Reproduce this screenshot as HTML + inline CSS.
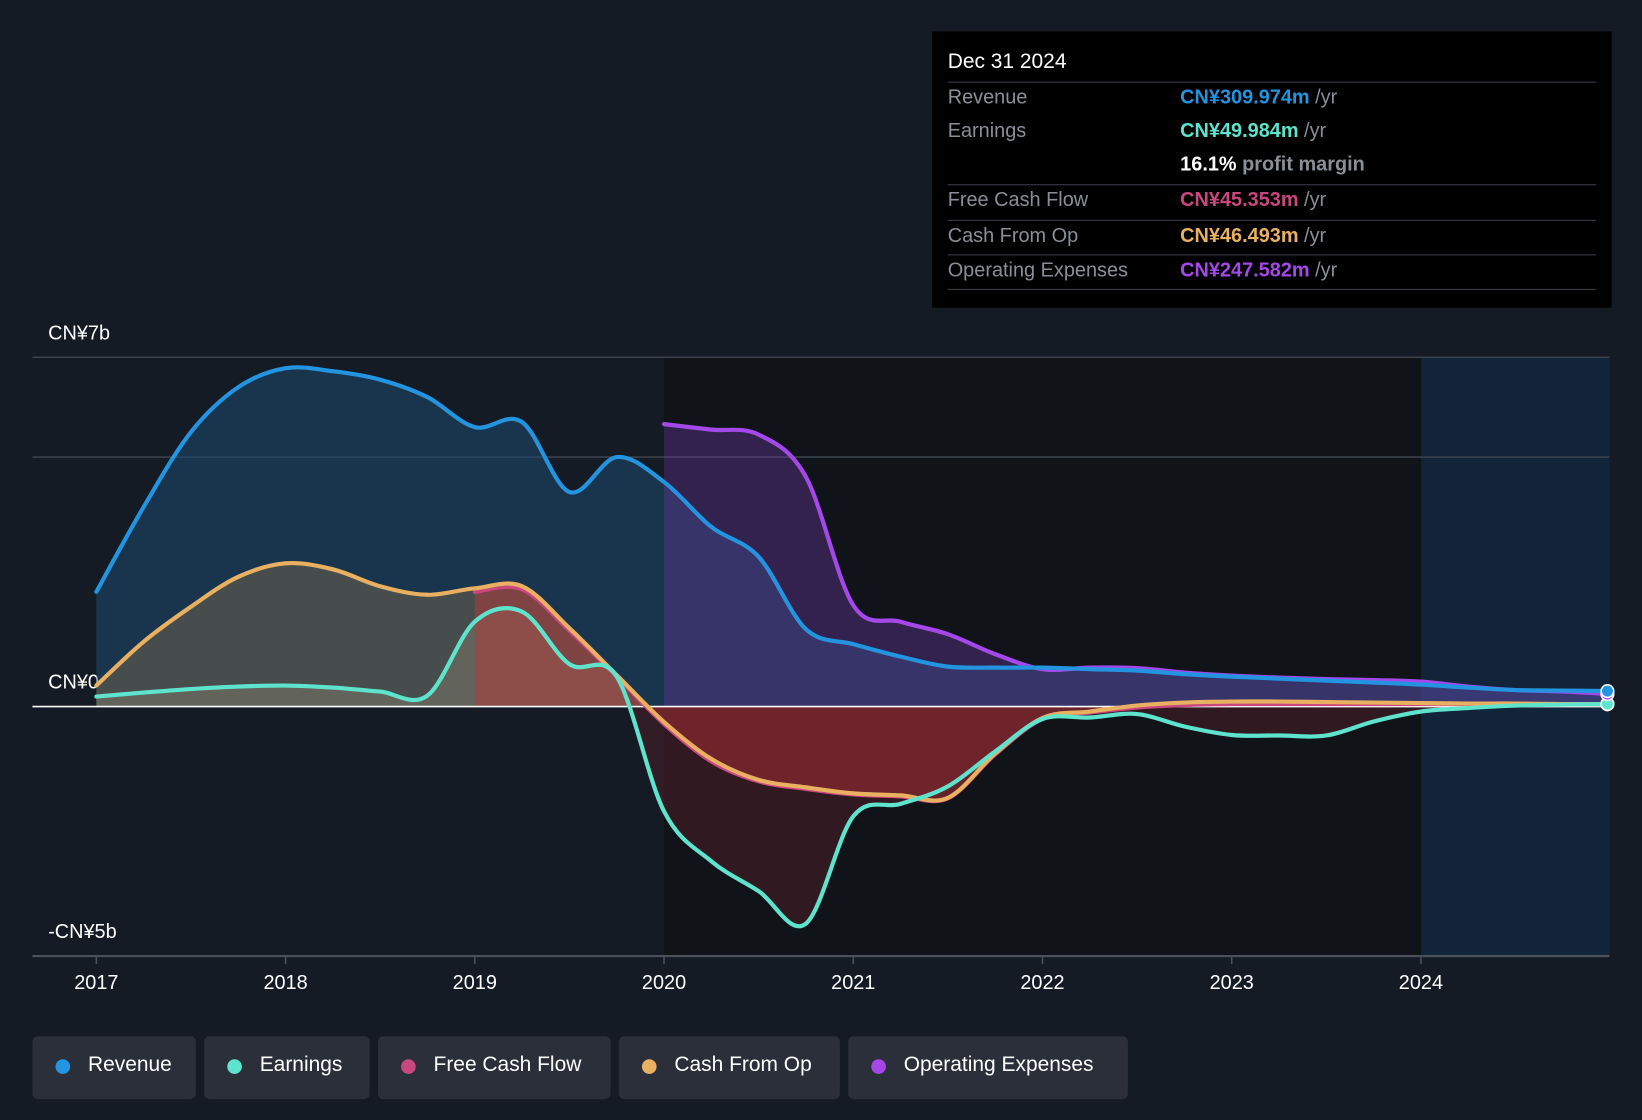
<!DOCTYPE html>
<html><head><meta charset="utf-8"><style>
html,body{margin:0;padding:0;background:#151b24;overflow:hidden;width:1642px;height:1120px}
#wrap{position:absolute;left:0;top:0;width:1568px;height:1070px;transform:scale(1.04719,1.04673);transform-origin:0 0;font-family:"Liberation Sans","Noto Sans CJK SC",sans-serif;background:#151b24}
#tip{position:absolute;left:890px;top:30px;width:649px;height:264px;background:#000}
#tip .d{position:absolute;left:15px;top:18px;color:#fff;font-size:20px}
.row{position:absolute;left:15px;width:619px;border-top:1.5px solid #3a3f46;height:32px;font-size:19px}
.row .l{position:absolute;left:0;top:4px;color:#8a8f96}
.row .v{position:absolute;left:222px;top:4px;font-weight:bold}
.row .u{color:#8a8f96;font-weight:normal}
.leg{position:absolute;top:990px;height:60px;background:#2a2f39;border-radius:5px;color:#fff;font-size:20px}
.leg span.dot{position:absolute;left:22px;top:22px;width:14px;height:14px;border-radius:50%}
.leg span.t{position:absolute;left:53px;top:16px}
</style></head><body>
<div id="wrap">
<svg id="svg" width="1568" height="1070" style="position:absolute;left:0;top:0">
<defs>
<clipPath id="above"><rect x="0" y="0" width="1568" height="675"/></clipPath>
<clipPath id="below"><rect x="0" y="675" width="1568" height="400"/></clipPath>
</defs>
</svg>
<div id="tip">
<div class="d">Dec 31 2024</div>
<div class="row" style="top:48px"><span class="l">Revenue</span><span class="v" style="color:#2394df">CN¥309.974m <span class="u">/yr</span></span></div>
<div class="row" style="top:81px;border-top:none;height:auto"><span class="l">Earnings</span><span class="v" style="color:#5ee3cc">CN¥49.984m <span class="u">/yr</span></span></div>
<div class="row" style="top:113px;border-top:none"><span class="v" style="color:#fff">16.1% <span class="u" style="font-weight:bold">profit margin</span></span></div>
<div class="row" style="top:146px"><span class="l">Free Cash Flow</span><span class="v" style="color:#c9477f">CN¥45.353m <span class="u">/yr</span></span></div>
<div class="row" style="top:180px"><span class="l">Cash From Op</span><span class="v" style="color:#e8b060">CN¥46.493m <span class="u">/yr</span></span></div>
<div class="row" style="top:213px"><span class="l">Operating Expenses</span><span class="v" style="color:#a448ea">CN¥247.582m <span class="u">/yr</span></span></div>
<div class="row" style="top:246px;height:0"></div>
</div>
<div class="leg" style="left:31px;width:156px"><span class="dot" style="background:#2394df"></span><span class="t">Revenue</span></div>
<div class="leg" style="left:195px;width:158px"><span class="dot" style="background:#5ee3cc"></span><span class="t">Earnings</span></div>
<div class="leg" style="left:361px;width:222px"><span class="dot" style="background:#c9477f"></span><span class="t">Free Cash Flow</span></div>
<div class="leg" style="left:591px;width:211px"><span class="dot" style="background:#e8b060"></span><span class="t">Cash From Op</span></div>
<div class="leg" style="left:810px;width:267px"><span class="dot" style="background:#a448ea"></span><span class="t">Operating Expenses</span></div>
</div>
<script>
const years=[2017,2018,2019,2020,2021,2022,2023,2024];
const yTicks=[7,0,-5];
const yTickLabels=["CN¥7b","CN¥0","-CN¥5b"];
const t0=2017;
const revenue=[2.3,4.0,5.5,6.4,6.78,6.72,6.55,6.2,5.6,5.7,4.3,5.0,4.5,3.6,3.0,1.55,1.25,1.0,0.8,0.78,0.78,0.75,0.72,0.65,0.6,0.56,0.52,0.48,0.44,0.38,0.33,0.32,0.31];
const earnings=[0.2,0.28,0.35,0.4,0.42,0.38,0.3,0.22,1.7,1.9,0.85,0.6,-2.1,-3.1,-3.7,-4.35,-2.2,-1.95,-1.6,-0.9,-0.25,-0.22,-0.15,-0.4,-0.57,-0.58,-0.58,-0.3,-0.1,-0.03,0.02,0.04,0.05];
const cashFromOp=[0.42,1.3,2.0,2.6,2.87,2.75,2.41,2.24,2.37,2.41,1.57,0.63,-0.31,-1.05,-1.47,-1.62,-1.74,-1.78,-1.83,-0.94,-0.23,-0.1,0.02,0.08,0.1,0.1,0.09,0.08,0.07,0.06,0.06,0.05,0.05];
const fcfStart=8;
const freeCashFlow=[2.3,2.35,1.52,0.6,-0.35,-1.1,-1.5,-1.65,-1.76,-1.8,-1.84,-0.96,-0.25,-0.12,-0.02,0.03,0.05,0.05,0.05,0.05,0.05,0.05,0.05,0.05,0.045];
const opexStart=12;
const opex=[5.66,5.55,5.45,4.6,2.03,1.7,1.45,1.05,0.75,0.78,0.77,0.68,0.62,0.58,0.55,0.53,0.5,0.4,0.33,0.3,0.25];

const X0=92,PX=180.7,Y0=675,PY=47.67;
const xs=t=>X0+(t-t0)*PX;
const ys=v=>Y0-v*PY;
const svg=document.getElementById('svg');
const NS='http://www.w3.org/2000/svg';
function mk(tag,attrs){const e=document.createElementNS(NS,tag);for(const k in attrs)e.setAttribute(k,attrs[k]);svg.appendChild(e);return e;}
function pts(arr,start){return arr.map((v,i)=>[xs(t0+(start+i)*0.25),ys(v)]);}
function curve(p){let d='M'+p[0][0]+','+p[0][1];for(let i=0;i<p.length-1;i++){const a=p[i-1]||p[i],b=p[i],c=p[i+1],e=p[i+2]||c;
d+=' C'+(b[0]+(c[0]-a[0])/6)+','+(b[1]+(c[1]-a[1])/6)+' '+(c[0]-(e[0]-b[0])/6)+','+(c[1]-(e[1]-b[1])/6)+' '+c[0]+','+c[1];}return d;}
let r=mk('rect',{x:634,y:341,width:723,height:572,fill:'#101318'});
r=mk('rect',{x:1357,y:341,width:180,height:572,fill:'#12243a'});
[7,5].forEach(v=>{const g=mk('line',{x1:31,x2:1537,y1:ys(v),y2:ys(v),stroke:'#3a414b','stroke-width':1.5});});
let ax=mk('line',{x1:31,x2:1537,y1:ys(-5),y2:ys(-5),stroke:'#4a515b','stroke-width':2});
years.forEach(y=>{const x=xs(y);const tk=mk('line',{x1:x,x2:x,y1:913,y2:921,stroke:'#4a515b','stroke-width':1.5});
const t=mk('text',{x:x,y:945,fill:'#fff','font-size':19,'text-anchor':'middle','font-family':'Liberation Sans, sans-serif'});t.textContent=y;});
yTicks.forEach((v,i)=>{const t=mk('text',{x:46,y:ys(v)-17,fill:'#fff','font-size':19,'font-family':'Liberation Sans, Noto Sans CJK SC, sans-serif'});t.textContent=yTickLabels[i];});
const series=[
 {name:'revenue',d:revenue,s:0,c:'#2394df',f:'#1d4a70',o:0.55,nf:'#1d4a70',no:0},
 {name:'opex',d:opex,s:opexStart,c:'#a448ea',f:'#6a3aa0',o:0.4,nf:'#000',no:0},
 {name:'earnings',d:earnings,s:0,c:'#5ee3cc',f:'#c8c0b0',o:0.25,nf:'#4a1f28',no:0.55},
 {name:'cash-from-op',d:cashFromOp,s:0,c:'#e8b060',f:'#9a7a4a',o:0.35,nf:'#000',no:0},
 {name:'free-cash-flow',d:freeCashFlow,s:fcfStart,c:'#c9477f',f:'#b83a3a',o:0.5,nf:'#8a2a30',no:0.7}];
series.forEach(S=>{const p=pts(S.d,S.s);const c=curve(p);
 const d=c+' L'+p[p.length-1][0]+','+Y0+' L'+p[0][0]+','+Y0+' Z';
 const a=mk('path',{d:d,fill:S.f,'fill-opacity':S.o,'clip-path':'url(#above)'});
 
 if(S.no>0){const b=mk('path',{d:d,fill:S.nf,'fill-opacity':S.no,'clip-path':'url(#below)'});
 }});
const zl=mk('line',{x1:31,x2:1537,y1:Y0,y2:Y0,stroke:'#fff','stroke-width':1.5});
series.slice().reverse().forEach(S=>{const p=pts(S.d,S.s);
 const l=mk('path',{d:curve(p),fill:'none',stroke:S.c,'stroke-width':4,'stroke-linecap':'round','stroke-linejoin':'round'});
 
 const e=p[p.length-1];const dt=mk('circle',{cx:1535,cy:e[1],r:6,fill:S.c,stroke:'#fff','stroke-width':1.5});
 });
</script>
</body></html>
